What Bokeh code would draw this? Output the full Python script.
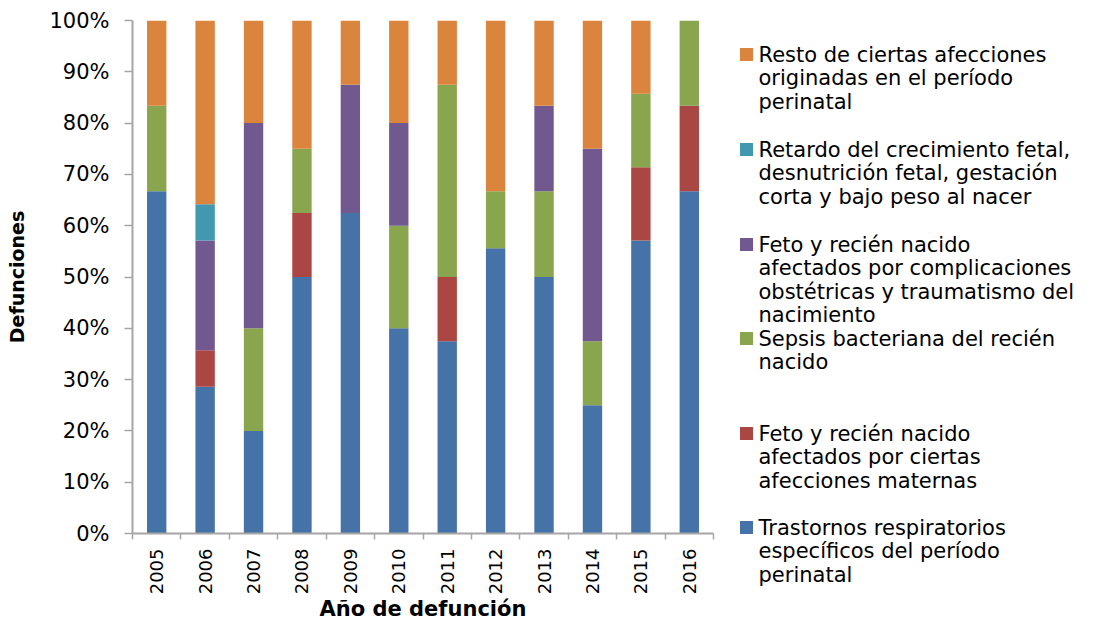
import math
from bokeh.plotting import figure
from bokeh.models import ColumnDataSource, Range1d, FixedTicker, NumeralTickFormatter
from bokeh.layouts import row
from bokeh.core.properties import value
from bokeh.embed import file_html
from bokeh.resources import INLINE

# ---- data (percent of deaths per year) ----
years = ["2005", "2006", "2007", "2008", "2009", "2010",
         "2011", "2012", "2013", "2014", "2015", "2016"]
trastornos = [66.7, 28.6, 20.0, 50.0, 62.5, 40.0, 37.5, 55.6, 50.0, 25.0, 57.1, 66.7]
feto_maternas = [0.0, 7.1, 0.0, 12.5, 0.0, 0.0, 12.5, 0.0, 0.0, 0.0, 14.3, 16.7]
sepsis = [16.7, 0.0, 20.0, 12.5, 0.0, 20.0, 37.5, 11.1, 16.7, 12.5, 14.3, 16.6]
feto_complicaciones = [0.0, 21.4, 40.0, 0.0, 25.0, 20.0, 0.0, 0.0, 16.7, 37.5, 0.0, 0.0]
retardo = [0.0, 7.1, 0.0, 0.0, 0.0, 0.0, 0.0, 0.0, 0.0, 0.0, 0.0, 0.0]
resto = [16.6, 35.8, 20.0, 25.0, 12.5, 20.0, 12.5, 33.3, 16.6, 25.0, 14.3, 0.0]

series_names = ["trastornos", "feto_maternas", "sepsis", "feto_complicaciones", "retardo", "resto"]
series_vals = [trastornos, feto_maternas, sepsis, feto_complicaciones, retardo, resto]
colors = ["#4572A7", "#AA4643", "#89A54E", "#71588F", "#4198AF", "#DB843D"]
legend_labels = [
    ["Trastornos respiratorios", "específicos del período", "perinatal"],
    ["Feto y recién nacido", "afectados por ciertas", "afecciones maternas"],
    ["Sepsis bacteriana del recién", "nacido"],
    ["Feto y recién nacido", "afectados por complicaciones", "obstétricas y traumatismo del", "nacimiento"],
    ["Retardo del crecimiento fetal,", "desnutrición fetal, gestación", "corta y bajo peso al nacer"],
    ["Resto de ciertas afecciones", "originadas en el período", "perinatal"],
]

FONT = "DejaVu Sans"
AXIS_GRAY = "#A6A6A6"

# layout (page pixels)
W, H = 1112, 624
MAIN_W = 720
FL, FR, FT, FB = 132, 713, 20, 534
N = len(years)

data = {"x": list(range(N))}
for name, vals in zip(series_names, series_vals):
    data[name] = [v / 100.0 for v in vals]
src = ColumnDataSource(data)

p = figure(width=MAIN_W, height=H, output_backend="svg", toolbar_location=None,
           x_range=Range1d(-0.5, N - 0.5), y_range=Range1d(0, 1),
           min_border_left=FL, min_border_right=MAIN_W - FR,
           min_border_top=FT, min_border_bottom=H - FB)
p.frame_align = False
p.vbar_stack(series_names, x="x", width=0.4, color=colors, line_width=0, source=src)

p.xgrid.visible = False
p.ygrid.visible = False
p.outline_line_color = None

# x axis: labels at centres, ticks at category boundaries
xa = p.xaxis[0]
xa.ticker = FixedTicker(ticks=list(range(N)),
                        minor_ticks=[i - 0.5 for i in range(N + 1)])
xa.major_label_overrides = {i: y for i, y in enumerate(years)}
xa.major_label_orientation = math.pi / 2
xa.major_tick_out = 0
xa.major_tick_in = 0
xa.minor_tick_out = 6
xa.minor_tick_in = 0
xa.minor_tick_line_color = AXIS_GRAY
xa.minor_tick_line_width = 1.5
xa.axis_line_color = AXIS_GRAY
xa.axis_line_width = 2
xa.major_label_standoff = 9
xa.major_label_text_font = FONT
xa.major_label_text_font_size = "18px"
xa.major_label_text_color = "#000000"
xa.axis_label = "Año de defunción"
xa.axis_label_text_font = FONT
xa.axis_label_text_font_style = "bold"
xa.axis_label_text_font_size = "21px"
xa.axis_label_text_color = "#000000"
xa.axis_label_standoff = 0

ya = p.yaxis[0]
ya.ticker = FixedTicker(ticks=[i / 10 for i in range(11)], minor_ticks=[])
ya.formatter = NumeralTickFormatter(format="0%")
ya.major_tick_out = 8
ya.major_tick_in = 0
ya.minor_tick_out = 0
ya.minor_tick_in = 0
ya.major_tick_line_color = AXIS_GRAY
ya.major_tick_line_width = 1.5
ya.axis_line_color = AXIS_GRAY
ya.axis_line_width = 2
ya.major_label_standoff = 15
ya.major_label_text_font = FONT
ya.major_label_text_font_size = "21px"
ya.major_label_text_color = "#000000"
ya.axis_label = "Defunciones"
ya.axis_label_text_font = FONT
ya.axis_label_text_font_style = "bold"
ya.axis_label_text_font_size = "19px"
ya.axis_label_text_color = "#000000"
ya.axis_label_standoff = 18

# ---- legend panel (its coordinates = page pixels) ----
leg = figure(width=W - MAIN_W, height=H, output_backend="svg", toolbar_location=None,
             x_range=Range1d(MAIN_W, W), y_range=Range1d(H, 0),
             x_axis_type=None, y_axis_type=None, min_border=0)
leg.frame_align = False
leg.outline_line_color = None
leg.xgrid.visible = False
leg.ygrid.visible = False

legend_first_line_y = [527, 433, 338, 244, 149, 54]
line_h = 23.6
sq_x, txt_x = 746, 758
sx, sy, sc = [], [], []
tx, ty, tt = [], [], []
for lines, y0, c in zip(legend_labels, legend_first_line_y, colors):
    sx.append(sq_x); sy.append(y0); sc.append(c)
    for k, ln in enumerate(lines):
        tx.append(txt_x); ty.append(y0 + k * line_h); tt.append(ln)
leg.scatter(sx, sy, marker="square", size=13, color=sc, line_width=0)
leg.text(x=tx, y=ty, text=tt, text_font=value(FONT), text_font_size="21px",
         text_baseline="middle", text_align="left", text_color="#000000")

layout = row(p, leg)
open("out.html", "w").write(file_html(layout, INLINE))
